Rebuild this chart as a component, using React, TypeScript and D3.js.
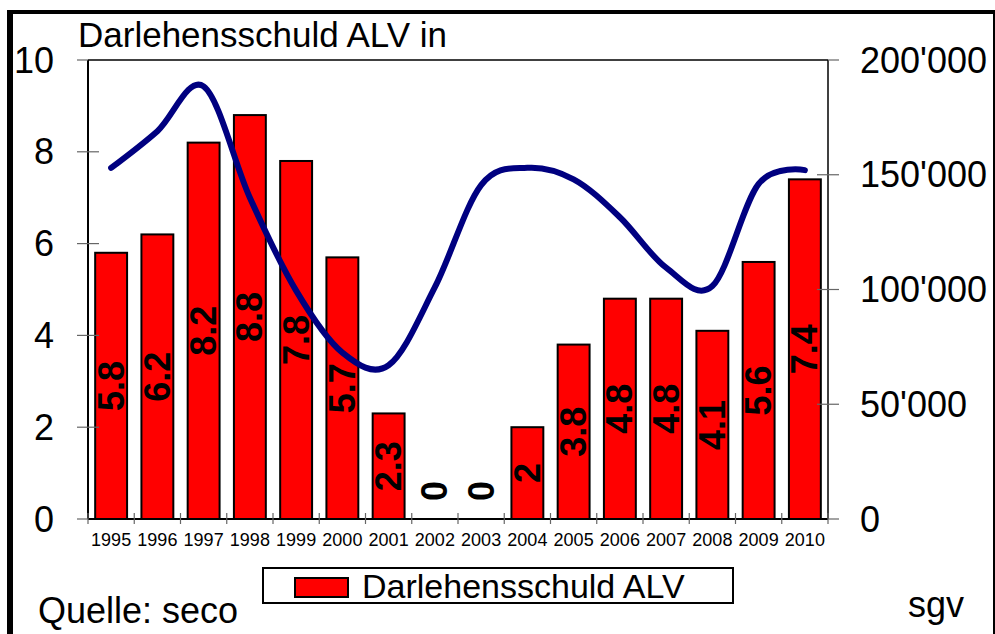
import React from "react";
import * as d3 from "d3";

const years = ["1995","1996","1997","1998","1999","2000","2001","2002","2003","2004","2005","2006","2007","2008","2009","2010"];
const debt = [5.8, 6.2, 8.2, 8.8, 7.8, 5.7, 2.3, 0, 0, 2, 3.8, 4.8, 4.8, 4.1, 5.6, 7.4];
const unemployed = [153000, 169000, 188500, 140000, 99500, 72500, 67000, 101000, 145500, 153000, 148000, 131500, 109500, 101500, 146000, 152000];
const leftTicks = [0, 2, 4, 6, 8, 10];
const rightTicks = [0, 50000, 100000, 150000, 200000];
const rightTickLabels = ["0", "50'000", "100'000", "150'000", "200'000"];

const W = 995, H = 634;
const L = 88, R = 828, T = 60, B = 519;
const FONT = "'Liberation Sans', Arial, sans-serif";

export default function App() {
  const x = d3.scaleBand<string>().domain(years).range([L, R]).paddingInner(0.31).paddingOuter(0.155);
  const edges = d3.scaleLinear().domain([0, years.length]).range([L, R]);
  const yL = d3.scaleLinear().domain([0, 10]).range([B, T]);
  const yR = d3.scaleLinear().domain([0, 200000]).range([B, T]);
  const cx = (y: string) => (x(y) as number) + x.bandwidth() / 2;

  const line = d3.line<number>()
    .x((_, i) => cx(years[i]))
    .y((d) => yR(d))
    .curve(d3.curveCardinal.tension(0));

  return (
    <svg width={W} height={H} style={{ position: "absolute", left: 0, top: 0, background: "#fff" }} fontFamily={FONT}>
      <rect x={0} y={0} width={W} height={H} fill="#fff" />
      {/* outer frame */}
      <rect x={7} y={10} width={6} height={H - 10} fill="#000" />
      <rect x={7} y={10} width={988} height={4} fill="#000" />
      <rect x={993} y={10} width={2} height={H - 10} fill="#000" />

      {/* title */}
      <text x={78} y={47} fontSize={35} fill="#000">Darlehensschuld ALV in</text>

      {/* plot frame top/right */}
      <line x1={L} x2={R} y1={T} y2={T} stroke="#000" strokeWidth={1.5} />
      <line x1={R} x2={R} y1={T} y2={B} stroke="#000" strokeWidth={1.5} />

      {/* bars */}
      {years.map((yr, i) => debt[i] > 0 ? (
        <rect key={yr} x={x(yr)} y={yL(debt[i])} width={x.bandwidth()} height={B - yL(debt[i])}
          fill="#ff0000" stroke="#000" strokeWidth={2} />
      ) : null)}

      {/* line */}
      <path d={line(unemployed) || ""} fill="none" stroke="#000080" strokeWidth={6} strokeLinecap="round" />

      {/* bar labels */}
      {years.map((yr, i) => {
        const mid = Math.min((yL(debt[i]) + B) / 2, B - 28);
        return (
          <text key={"l" + yr} transform={`translate(${cx(yr)},${mid}) rotate(-90)`} textAnchor="middle"
            dominantBaseline="central" fontSize={36} fontWeight="bold" fill="#000">{String(debt[i])}</text>
        );
      })}

      {/* left axis */}
      <line x1={L} x2={L} y1={T} y2={B} stroke="#000" strokeWidth={2} />
      {leftTicks.map((t) => (
        <g key={"lt" + t}>
          <line x1={77} x2={t === 10 || t === 0 ? L : 99} y1={yL(t)} y2={yL(t)} stroke="#666" strokeWidth={1.2} />
          <text x={54} y={yL(t)} textAnchor="end" dominantBaseline="central" fontSize={36} fill="#000">{t}</text>
        </g>
      ))}

      {/* right axis */}
      {rightTicks.map((t, i) => (
        <g key={"rt" + t}>
          <line x1={t === 200000 || t === 0 ? R : 817} x2={839} y1={yR(t)} y2={yR(t)} stroke="#666" strokeWidth={1.2} />
          <text x={860} y={yR(t)} textAnchor="start" dominantBaseline="central" fontSize={36} fill="#000">{rightTickLabels[i]}</text>
        </g>
      ))}

      {/* bottom axis */}
      <line x1={L} x2={R} y1={B} y2={B} stroke="#000" strokeWidth={2} />
      {d3.range(years.length + 1).map((i) => (
        <line key={"bt" + i} x1={edges(i)} x2={edges(i)} y1={513} y2={524} stroke="#666" strokeWidth={1.2} />
      ))}
      {years.map((yr) => (
        <text key={"yl" + yr} x={cx(yr)} y={546} textAnchor="middle" fontSize={18} fill="#000">{yr}</text>
      ))}

      {/* legend */}
      <rect x={263} y={568} width={470} height={35} fill="#fff" stroke="#000" strokeWidth={2} />
      <rect x={295} y={578} width={53} height={19} fill="#ff0000" stroke="#000" strokeWidth={2} />
      <text x={362} y={598} fontSize={34} fill="#000">Darlehensschuld ALV</text>

      {/* footer */}
      <text x={38} y={623} fontSize={36} fill="#000">Quelle: seco</text>
      <text x={908} y={617} fontSize={36} fill="#000">sgv</text>
    </svg>
  );
}
